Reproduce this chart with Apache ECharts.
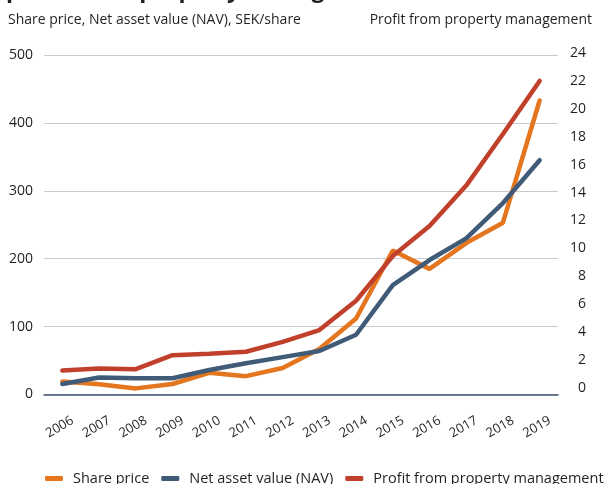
<!DOCTYPE html>
<html>
<head>
<meta charset="utf-8">
<script src="https://cdn.jsdelivr.net/npm/echarts@6/dist/echarts.min.js"></script>
<style>
  html, body { margin: 0; padding: 0; background: #fff; }
  #chart { width: 608px; height: 484px; }
</style>
</head>
<body>
<div id="chart"></div>
<script>
// data
const years = ['2006', '2007', '2008', '2009', '2010', '2011', '2012',
  '2013', '2014', '2015', '2016', '2017', '2018', '2019'];
const sharePrice = [19, 15, 9, 15.5, 32, 27, 39, 67, 112, 212, 185, 223, 253, 433];
const nav = [15.5, 25, 24, 24, 36, 46, 55, 64, 88, 161, 198, 230, 282, 345];
const profit = [1.25, 1.4, 1.35, 2.35, 2.45, 2.6, 3.3, 4.15, 6.25, 9.45, 11.6, 14.5, 18.2, 22.0];

const font = 'Open Sans';
const textColor = '#231f20';

let chart = echarts.init(document.getElementById('chart'));

chart.setOption({
    animation: false,
    textStyle: { fontFamily: font },
    graphic: [
        {
            // heading cut off at the top of the picture
            type: 'text', x: 6, y: -10,
            style: {
                text: 'profit from property management', fill: textColor,
                font: 'bold 23px "Open Sans"', verticalAlign: 'middle'
            }
        },
        {
            type: 'text', left: 8, top: 13,
            style: { text: 'Share price, Net asset value (NAV), SEK/share', fill: textColor, font: '14px "Open Sans"' }
        },
        {
            type: 'text', right: 16, top: 13,
            style: { text: 'Profit from property management', fill: textColor, font: '14px "Open Sans"' }
        }
    ],
    legend: {
        bottom: -7,
        left: 40,
        width: 590,
        itemWidth: 18,
        itemHeight: 5,
        itemGap: 12,
        icon: 'roundRect',
        textStyle: { fontSize: 14.5, color: textColor, fontFamily: font, padding: [0, 0, 0, 5] },
        data: ['Share price', 'Net asset value (NAV)', 'Profit from property management']
    },
    grid: [
        { left: 44, right: 50, top: 55, bottom: 89.5 },
        { left: 44, right: 50, top: 53, bottom: 96 }
    ],
    xAxis: [
        {
            type: 'category',
            gridIndex: 0,
            data: years,
            boundaryGap: true,
            axisLine: { lineStyle: { color: '#3f5670', width: 1.5 } },
            axisTick: { show: false },
            axisLabel: {
                rotate: 30,
                align: 'center',
                verticalAlign: 'middle',
                margin: 31,
                fontSize: 13,
                color: textColor,
                interval: 0,
                padding: [0, 6, 0, 0]
            }
        },
        {
            type: 'category',
            gridIndex: 1,
            data: years,
            boundaryGap: true,
            show: false
        }
    ],
    yAxis: [
        {
            type: 'value',
            gridIndex: 0,
            min: 0,
            max: 500,
            interval: 100,
            axisLine: { show: false },
            axisTick: { show: false },
            axisLabel: { fontSize: 14, color: textColor, margin: 11 },
            splitLine: { lineStyle: { color: '#c9cacc', width: 1 } }
        },
        {
            type: 'value',
            gridIndex: 1,
            position: 'right',
            min: 0,
            max: 24,
            interval: 2,
            axisLine: { show: false },
            axisTick: { show: false },
            splitLine: { show: false },
            axisLabel: { fontSize: 14, color: textColor, margin: 28, align: 'right' }
        }
    ],
    series: [
        {
            name: 'Share price',
            type: 'line',
            xAxisIndex: 0,
            yAxisIndex: 0,
            data: sharePrice,
            showSymbol: false,
            color: '#e3761f',
            lineStyle: { width: 4.5, cap: 'round' }
        },
        {
            name: 'Net asset value (NAV)',
            type: 'line',
            xAxisIndex: 0,
            yAxisIndex: 0,
            data: nav,
            showSymbol: false,
            color: '#3f5b77',
            lineStyle: { width: 4.5, cap: 'round' }
        },
        {
            name: 'Profit from property management',
            type: 'line',
            xAxisIndex: 1,
            yAxisIndex: 1,
            data: profit,
            showSymbol: false,
            color: '#c1402b',
            lineStyle: { width: 4.5, cap: 'round' }
        }
    ]
});
</script>
</body>
</html>
